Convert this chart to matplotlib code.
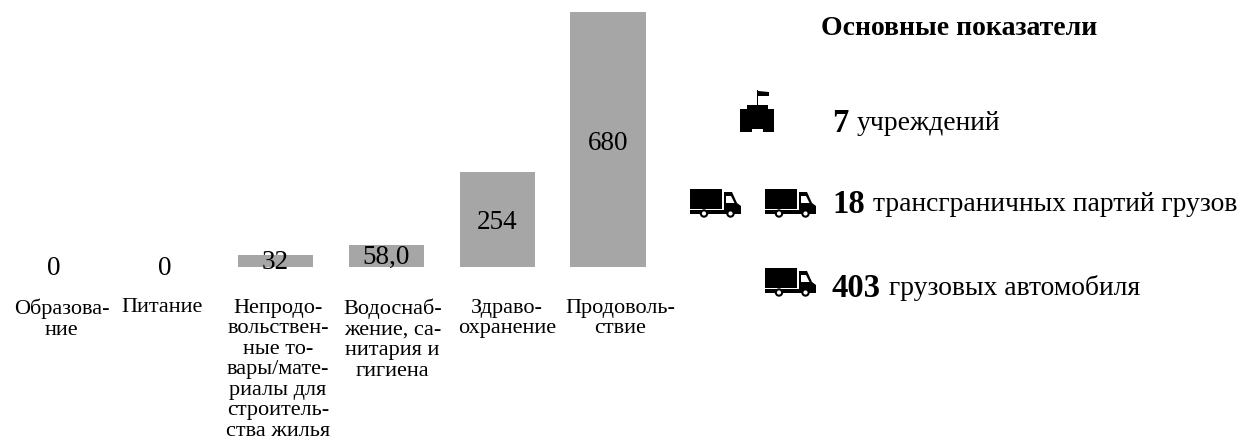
import matplotlib
matplotlib.use("Agg")
import matplotlib.pyplot as plt
from matplotlib.patches import Polygon, Circle, Rectangle

plt.rcParams['font.family'] = ['Liberation Serif', 'DejaVu Serif']

categories = ["Образова-\nние", "Питание",
              "Непродо-\nвольствен-\nные то-\nвары/мате-\nриалы для\nстроитель-\nства жилья",
              "Водоснаб-\nжение, са-\nнитария и\nгигиена",
              "Здраво-\nохранение", "Продоволь-\nствие"]
values = [0, 0, 32, 58, 254, 680]
value_labels = ["0", "0", "32", "58,0", "254", "680"]

title = "Основные показатели"
kpi_numbers = ["7", "18", "403"]
kpi_texts = ["учреждений", "трансграничных партий грузов", "грузовых автомобиля"]

W, H = 1241, 443
fig = plt.figure(figsize=(W / 100, H / 100), dpi=100)

# bars, axes placed in pixels
x0, x1 = 4.1, 663.4
ytop, ybase = 12, 267
ax = fig.add_axes([x0 / W, 1 - ybase / H, (x1 - x0) / W, (ybase - ytop) / H])
ax.bar(range(len(values)), values, width=0.68, color="#a6a6a6")
ax.set_xlim(-0.45, 5.5)
ax.set_ylim(0, 680)
ax.axis("off")

# labels are not quite under their bars in the original
label_shift = [7.5, -2.5, 2.5, 6, 10, 12]
px = 72 / 100
for i, v in enumerate(values):
    if v > 100:
        dy = -3.5
    elif v > 0:
        dy = -1.5
    else:
        dy = -1.5
    ax.annotate(value_labels[i], (i, v / 2), xytext=(0, dy * px), textcoords="offset points",
                ha="center", va="center", fontsize=19.5, color="black", annotation_clip=False)
    ax.annotate(categories[i], (i, 0), xytext=(label_shift[i] * px, -31.5 * px), textcoords="offset points",
                ha="center", va="top", fontsize=16, linespacing=1.11,
                color="black", annotation_clip=False)

# overlay in image pixels for the text block and icons
ov = fig.add_axes([0, 0, 1, 1], zorder=3)
ov.set_xlim(0, W)
ov.set_ylim(H, 0)
ov.axis("off")


def truck(left, top):
    ov.add_patch(Rectangle((left, top), 32, 19.5, color="black", lw=0))
    ov.add_patch(Rectangle((left, top + 21), 51, 3.5, color="black", lw=0))
    ov.add_patch(Polygon([(left + 34, top + 3), (left + 42, top + 3), (left + 47, top + 14),
                          (left + 51, top + 17), (left + 51, top + 24), (left + 34, top + 24)],
                         color="black", lw=0))
    ov.add_patch(Polygon([(left + 36, top + 7), (left + 41, top + 7), (left + 44.5, top + 14),
                          (left + 36, top + 14)], color="white", lw=0))
    for wx in (14, 40.5):
        ov.add_patch(Circle((left + wx, top + 24.5), 4.2, color="black", lw=0))
        ov.add_patch(Circle((left + wx, top + 24.5), 2.1, color="white", lw=0))


def building(left, top):
    ov.add_patch(Polygon([(left, top + 19), (left + 7, top + 19), (left + 7, top + 15), (left + 28, top + 15),
                          (left + 28, top + 19), (left + 34, top + 19), (left + 34, top + 42),
                          (left + 23, top + 42), (left + 23, top + 39), (left + 12, top + 39),
                          (left + 12, top + 42), (left, top + 42)], color="black", lw=0))
    ov.add_patch(Rectangle((left + 17, top), 1.3, 15, color="black", lw=0))
    ov.add_patch(Polygon([(left + 18, top + 1), (left + 29, top + 2), (left + 29, top + 6), (left + 18, top + 6)],
                         color="black", lw=0))


building(740, 90)
truck(690, 189)
truck(765, 189)
truck(765, 268)

ov.text(959, 28, title, ha="center", va="center", fontsize=20, fontweight="bold", color="black")

rows = [(832, 120), (832, 201), (832, 285)]
for (x, y), num, txt in zip(rows, kpi_numbers, kpi_texts):
    t = ov.text(x, y, num, ha="left", va="center_baseline", fontsize=23.5, fontweight="bold", color="black")
    fig.canvas.draw()
    bb = t.get_window_extent()
    ov.text(bb.x1 + 8, y, txt, ha="left", va="center_baseline", fontsize=19.9, color="black")

fig.savefig("out.png", dpi=100)
